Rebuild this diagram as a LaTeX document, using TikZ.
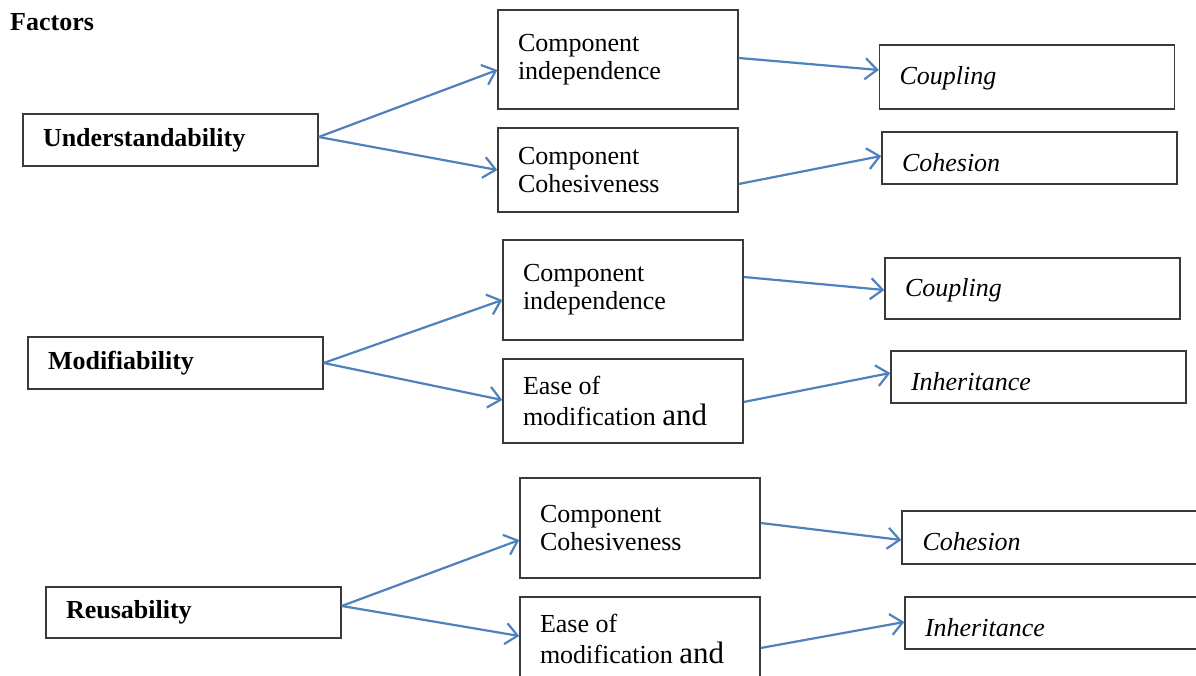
\documentclass[tikz,border=0pt]{standalone}
\usepackage{fontspec}
\setmainfont{Liberation Serif}
\usetikzlibrary{arrows.meta}
\definecolor{arrowblue}{HTML}{4F81BD}
\definecolor{boxgray}{HTML}{3A3A3A}
\tikzset{
  box/.style={draw=boxgray, line width=1.4pt, rectangle, inner xsep=20pt, inner ysep=0pt,
    align=flush left, font=\fontsize{26}{28}\selectfont},
  factorbox/.style={box, minimum width=295pt, minimum height=52pt, text width=255pt,
    font=\fontsize{26}{28}\selectfont\bfseries},
  compbox/.style={box, minimum width=240pt, text width=200pt},
  easebox/.style={compbox, font=\fontsize{26}{31}\selectfont},
  metricbox/.style={box, minimum width=295pt, text width=255pt,
    font=\fontsize{26}{28}\selectfont\itshape, text depth=0pt},
  lowtext/.style={text height=27pt},
  midtext/.style={text height=16pt},
  conn/.style={draw=arrowblue, line width=2.2pt, -{Straight Barb[length=12pt,width=21pt]}}
}
\newcommand{\andbig}{{\fontsize{31}{31}\selectfont and}}
\begin{document}
\begin{tikzpicture}[x=1pt,y=1pt]
\useasboundingbox (0,0) rectangle (1196,676);
\clip (0,0) rectangle (1196,676);
\fill[white] (0,0) rectangle (1196,676);

\node[anchor=west, inner sep=0pt, font=\fontsize{26}{28}\selectfont\bfseries] (fac) at (10,654) {Factors};

% Row 1
\node[factorbox] (U) at (170.5,536) {Understandability};
\node[compbox, minimum height=99pt] (ci1) at (618,616.5) {Component\\independence};
\node[compbox, minimum height=84pt] (cc1) at (618,506) {Component\\Cohesiveness};
\node[metricbox, midtext, minimum width=294pt, minimum height=64pt] (coup1) at (1027,599) {Coupling};
\node[metricbox, lowtext, minimum height=52pt] (coh1) at (1029.5,518) {Cohesion};

% Row 2
\node[factorbox] (M) at (175.5,313) {Modifiability};
\node[compbox, minimum height=100pt] (ci2) at (623,386) {Component\\independence};
\node[easebox, minimum height=84pt] (em2) at (623,275) {Ease of\\modification \andbig};
\node[metricbox, midtext, minimum height=61pt] (coup2) at (1032.5,387.5) {Coupling};
\node[metricbox, lowtext, minimum height=52pt] (inh2) at (1038.5,299) {Inheritance};

% Row 3
\node[factorbox, minimum height=51pt] (R) at (193.5,63.5) {Reusability};
\node[compbox, minimum height=100pt] (cc3) at (640,148) {Component\\Cohesiveness};
\node[easebox, minimum height=84pt] (em3) at (640,37) {Ease of\\modification \andbig};
\node[metricbox, lowtext, minimum width=296pt, minimum height=53pt] (coh3) at (1050,138.5) {Cohesion};
\node[metricbox, lowtext, minimum height=52pt] (inh3) at (1052.5,53) {Inheritance};

% Connectors row 1
\draw[conn] ([yshift=3pt]U.east) -- ([yshift=-10.5pt]ci1.west);
\draw[conn] ([yshift=3pt]U.east) -- (cc1.west);
\draw[conn] ([yshift=1.5pt]ci1.east) -- ([yshift=7pt]coup1.west);
\draw[conn] ([yshift=-14pt]cc1.east) -- ([yshift=2pt]coh1.west);

% Connectors row 2
\draw[conn] (M.east) -- ([yshift=-10pt]ci2.west);
\draw[conn] (M.east) -- ([yshift=1pt]em2.west);
\draw[conn] ([yshift=13pt]ci2.east) -- ([yshift=-1.5pt]coup2.west);
\draw[conn] ([yshift=-1pt]em2.east) -- ([yshift=4pt]inh2.west);

% Connectors row 3
\draw[conn] ([yshift=6.5pt]R.east) -- ([yshift=-12pt]cc3.west);
\draw[conn] ([yshift=6.5pt]R.east) -- ([yshift=3pt]em3.west);
\draw[conn] ([yshift=5pt]cc3.east) -- ([yshift=-2.5pt]coh3.west);
\draw[conn] ([yshift=-9pt]em3.east) -- ([yshift=1pt]inh3.west);
\end{tikzpicture}
\end{document}
